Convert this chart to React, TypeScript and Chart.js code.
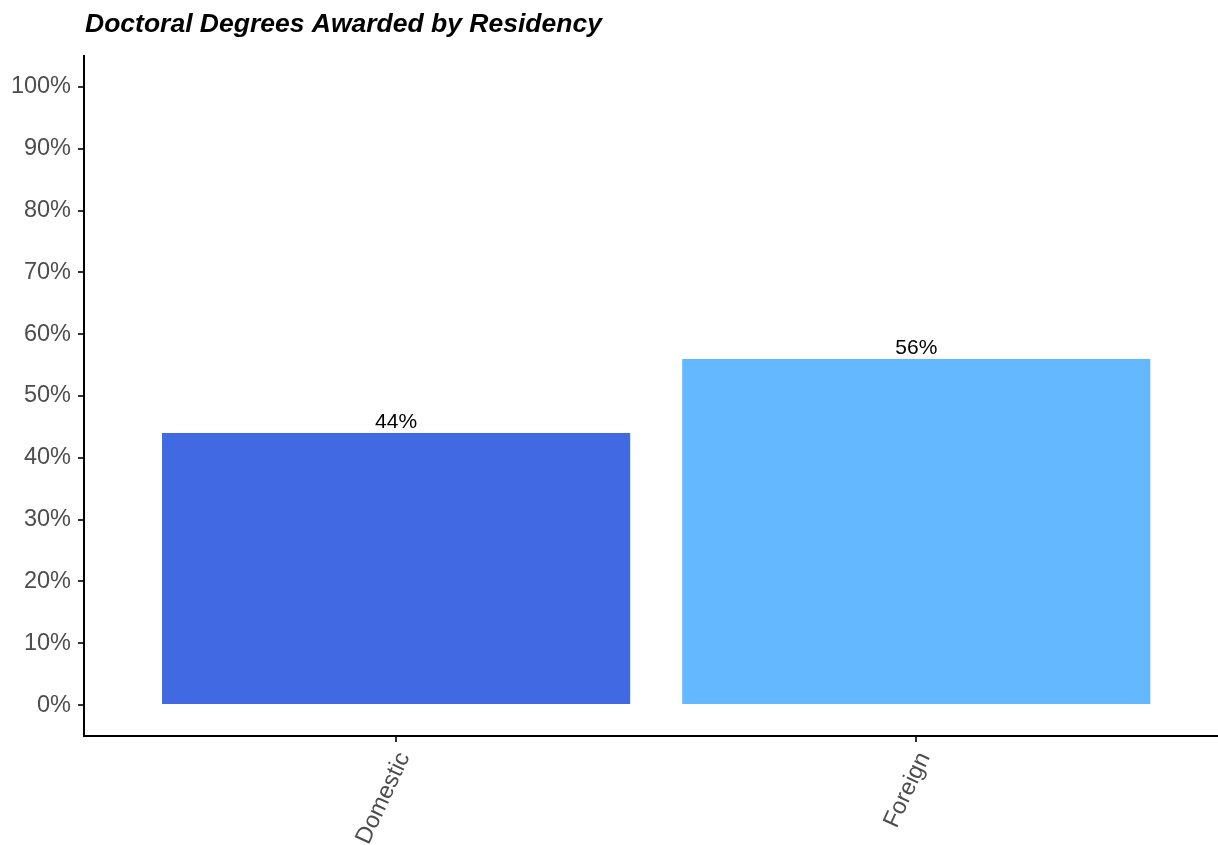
import React, { useEffect, useRef } from "react";
import { Chart, registerables } from "chart.js";

Chart.register(...registerables);

const categories = ["Domestic", "Foreign"];
const positions = [1, 2];
const values = [44, 56];
const barColors = ["#4169E1", "#63B8FF"];
const yTicks = [0, 10, 20, 30, 40, 50, 60, 70, 80, 90, 100];
const titleText = "Doctoral Degrees Awarded by Residency";

const FONT = "'Liberation Sans', Arial, Helvetica, sans-serif";

export default function App() {
  const ref = useRef<HTMLCanvasElement | null>(null);

  useEffect(() => {
    document.body.style.margin = "0";
    const canvas = ref.current;
    if (!canvas) return;

    const labelPlugin = {
      id: "barLabels",
      afterDatasetsDraw(chart: any) {
        const ctx = chart.ctx;
        const meta = chart.getDatasetMeta(0);
        ctx.save();
        ctx.font = `21px ${FONT}`;
        ctx.fillStyle = "#000000";
        ctx.textAlign = "center";
        ctx.textBaseline = "alphabetic";
        meta.data.forEach((el: any, i: number) => {
          ctx.fillText(`${values[i]}%`, el.x, el.y - 5);
        });
        ctx.restore();
      },
    };

    const titlePlugin = {
      id: "ggTitle",
      afterDraw(chart: any) {
        const ctx = chart.ctx;
        ctx.save();
        ctx.font = `italic bold 26.5px ${FONT}`;
        ctx.fillStyle = "#000000";
        ctx.textAlign = "left";
        ctx.textBaseline = "middle";
        ctx.fillText(titleText, chart.chartArea.left + 1, 25);
        ctx.restore();
      },
    };

    const chart = new Chart(canvas, {
      type: "bar",
      data: {
        datasets: [
          {
            data: positions.map((p, i) => ({ x: p, y: values[i] })),
            backgroundColor: barColors,
            borderWidth: 0,
            categoryPercentage: 1,
            barPercentage: 0.9,
          },
        ],
      },
      options: {
        animation: false,
        responsive: true,
        maintainAspectRatio: false,
        layout: { padding: { top: 56, left: 0, right: 0, bottom: 0 } },
        plugins: {
          legend: { display: false },
          tooltip: { enabled: false },
          title: { display: false },
        },
        scales: {
          x: {
            type: "linear",
            min: 0.4,
            max: 2.58,
            offset: false,
            afterBuildTicks: (axis: any) => {
              axis.ticks = positions.map((v) => ({ value: v }));
            },
            afterFit: (axis: any) => {
              axis.height = 109;
            },
            ticks: {
              autoSkip: false,
              minRotation: 65,
              maxRotation: 65,
              padding: 6,
              labelOffset: 8,
              color: "#4D4D4D",
              font: { family: FONT, size: 23.5 },
              callback: (v: any) => {
                const idx = positions.indexOf(Number(v));
                return idx >= 0 ? categories[idx] : "";
              },
            },
            grid: {
              display: true,
              drawOnChartArea: false,
              drawTicks: true,
              tickLength: 6,
              color: "#333333",
              lineWidth: 2,
              offset: false,
            },
            border: { display: true, color: "#000000", width: 2 },
          },
          y: {
            type: "linear",
            min: -5,
            max: 105,
            afterBuildTicks: (axis: any) => {
              axis.ticks = yTicks.map((v) => ({ value: v }));
            },
            afterFit: (axis: any) => {
              axis.width = 84;
            },
            ticks: {
              padding: 7,
              color: "#4D4D4D",
              font: { family: FONT, size: 23.5 },
              callback: (v: any) => `${v}%`,
            },
            grid: {
              display: true,
              drawOnChartArea: false,
              drawTicks: true,
              tickLength: 6,
              color: "#333333",
              lineWidth: 2,
            },
            border: { display: true, color: "#000000", width: 2 },
          },
        },
      },
      plugins: [labelPlugin, titlePlugin],
    });

    return () => {
      chart.destroy();
    };
  }, []);

  return (
    <div style={{ position: "absolute", left: 0, top: 0, width: 1218, height: 845, background: "#ffffff" }}>
      <canvas ref={ref} />
    </div>
  );
}
